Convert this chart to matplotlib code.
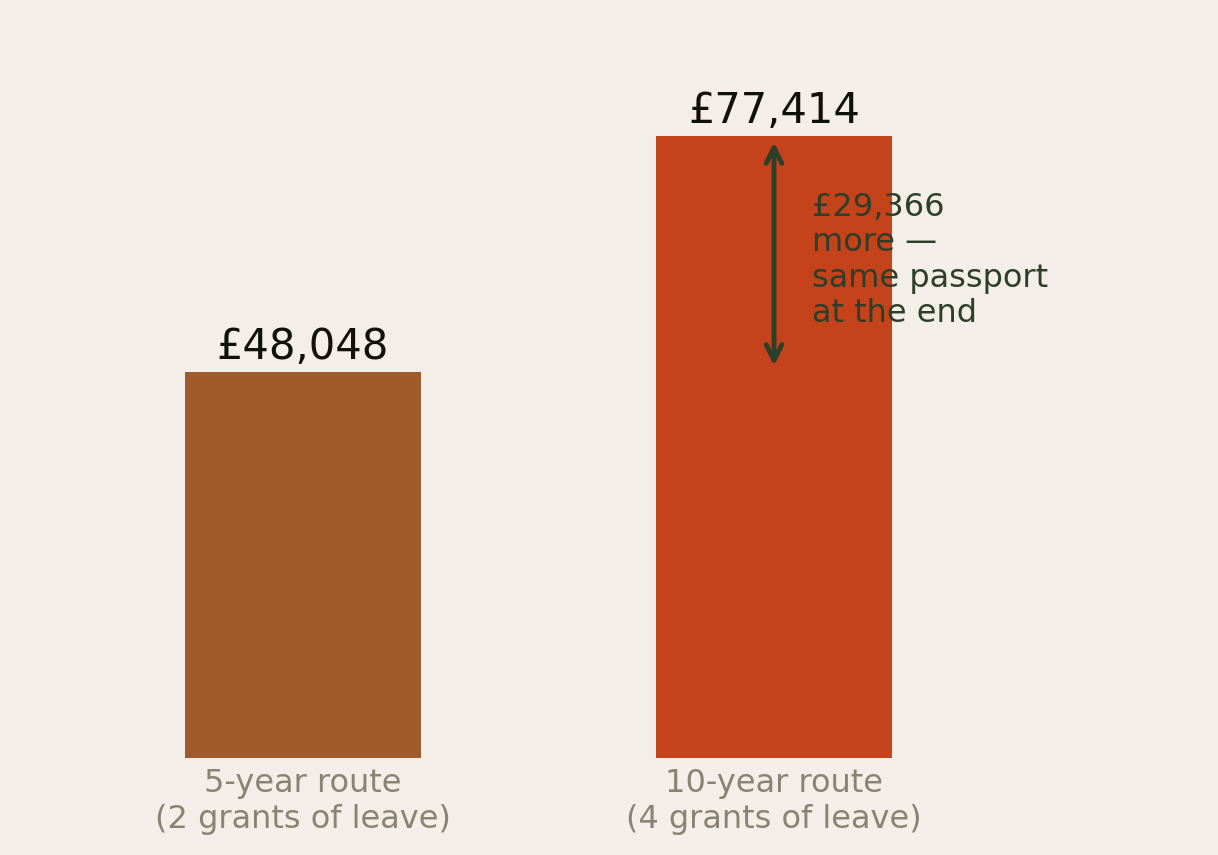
import matplotlib.pyplot as plt

routes = ['5-year route\n(2 grants of leave)', '10-year route\n(4 grants of leave)']
totals = [48048, 77414]
bar_colors = ['#a05a2c', '#c5431a']
difference = totals[1] - totals[0]

bg = '#f3efe8'
fig = plt.figure(figsize=(12.18, 8.55), dpi=100, facecolor=bg)
ax = fig.add_axes([0, 97 / 855, 1, 758 / 855])
ax.set_facecolor(bg)

x = range(len(routes))
ax.bar(x, totals, width=0.5, color=bar_colors)

for xi, v in zip(x, totals):
    ax.text(xi, v + 500, '£{:,}'.format(v), ha='center', va='bottom',
            fontsize=30, color='#111108')

# difference arrow on the taller bar
ax.annotate('', xy=(1, totals[1]), xytext=(1, totals[0]),
            arrowprops=dict(arrowstyle='<->', color='#2d3e2a', lw=3.5,
                            mutation_scale=28, shrinkA=4.5, shrinkB=4.5))
ax.text(1.081, 70450, '£{:,}\nmore —\nsame passport\nat the end'.format(difference),
        ha='left', va='top', fontsize=23, color='#2d3e2a', linespacing=1.18)

ax.set_xlim(-303 / 471, (1218 - 303) / 471)
ax.set_ylim(0, totals[1] * 758 / 622)
ax.set_xticks(list(x))
ax.set_xticklabels(routes, fontsize=23, color='#8a8275', linespacing=1.22)
ax.tick_params(axis='x', length=0, pad=7)
ax.set_yticks([])
for s in ax.spines.values():
    s.set_visible(False)

fig.savefig('out.png', dpi=100, facecolor=bg)
